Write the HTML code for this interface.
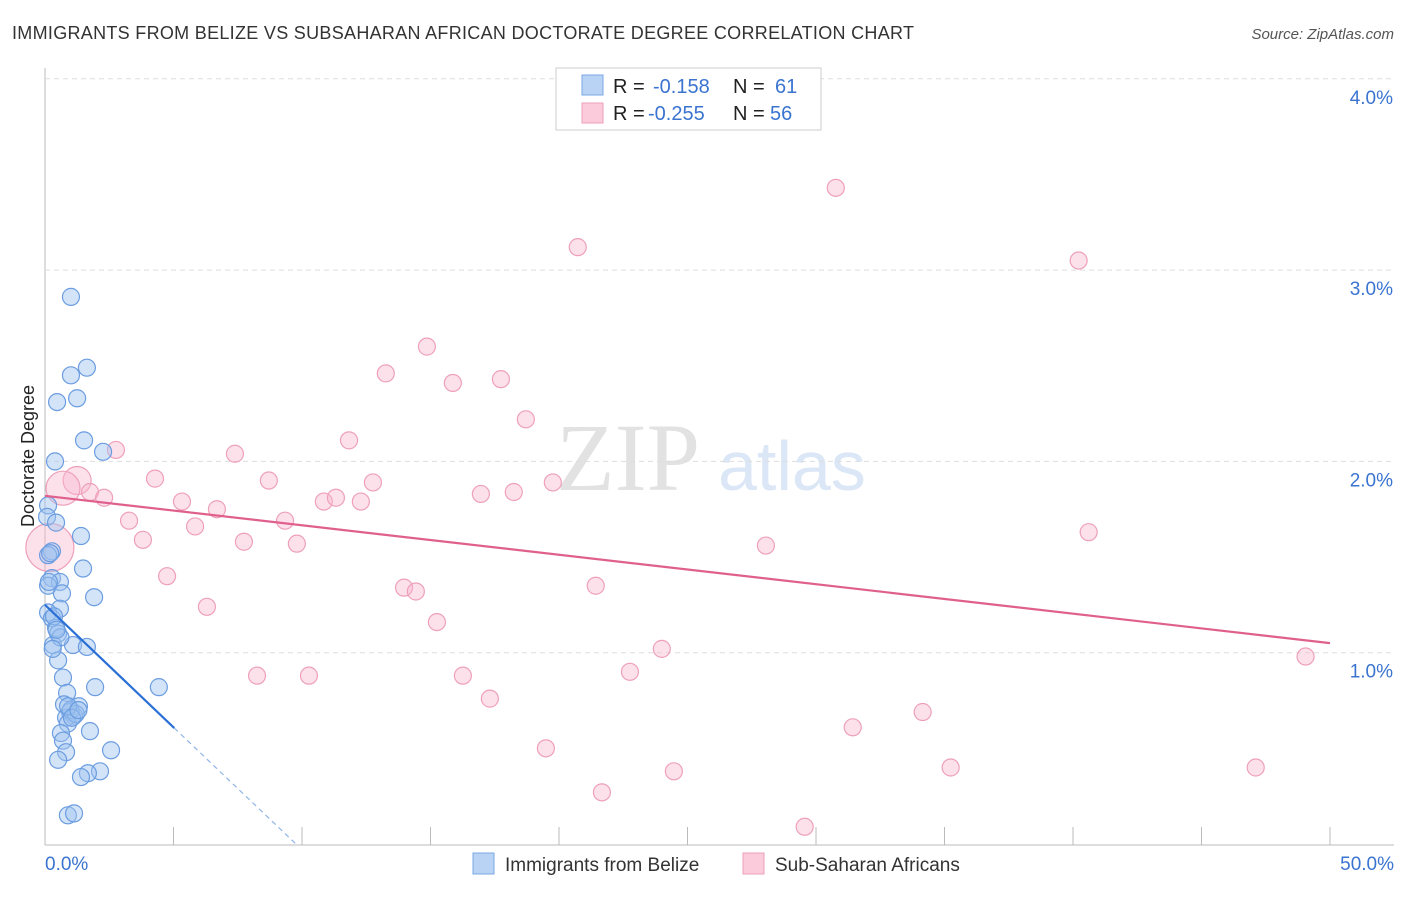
<!DOCTYPE html>
<html><head><meta charset="utf-8"><style>
body{margin:0;background:#fff;font-family:"Liberation Sans",sans-serif;}
svg text{font-family:"Liberation Sans",sans-serif;}
</style></head><body>
<svg id="chart" width="1406" height="892" xmlns="http://www.w3.org/2000/svg">
<text x="12" y="39" font-size="18" fill="#333" textLength="902" lengthAdjust="spacing">IMMIGRANTS FROM BELIZE VS SUBSAHARAN AFRICAN DOCTORATE DEGREE CORRELATION CHART</text>
<text x="1394" y="39" font-size="15" fill="#555" font-style="italic" text-anchor="end">Source: ZipAtlas.com</text>
<text x="34" y="456" font-size="18" fill="#222" text-anchor="middle" transform="rotate(-90 34 456)">Doctorate Degree</text>
<text x="556" y="490" font-size="96" fill="#e2e2e2" style="font-family:'Liberation Serif',serif">ZIP</text>
<text x="718" y="490" font-size="70" fill="#dbe7f6">atlas</text>
<g id="grid"></g><g id="pts"></g><g id="lines"></g>
<g>
<rect x="556" y="68" width="265" height="62" fill="#fff" stroke="#ccc"/>
<rect x="582" y="75" width="21" height="20" fill="#b9d3f5" stroke="#7ba7e6"/>
<rect x="582" y="103" width="21" height="20" fill="#fbcadb" stroke="#eea0ba"/>
<text x="613" y="93" font-size="20" fill="#222">R = <tspan x="653" fill="#3a74d0">-0.158</tspan><tspan x="733">N = </tspan><tspan x="775" fill="#3a74d0">61</tspan></text>
<text x="613" y="120" font-size="20" fill="#222">R = <tspan x="648" fill="#3a74d0">-0.255</tspan><tspan x="733">N = </tspan><tspan x="770" fill="#3a74d0">56</tspan></text>
</g>
<g>
<rect x="473" y="853" width="21" height="21" fill="#b9d3f5" stroke="#7ba7e6"/>
<text x="505" y="871" font-size="19" fill="#333">Immigrants from Belize</text>
<rect x="743" y="853" width="21" height="21" fill="#fbcadb" stroke="#eea0ba"/>
<text x="775" y="871" font-size="19" fill="#333">Sub-Saharan Africans</text>
</g>
</svg>
<script>
const blueX=[1.01,1.63,1.01,1.25,0.47,1.52,2.26,0.39,0.12,0.08,0.43,1.40,0.27,0.12,1.48,0.27,0.58,0.12,0.66,1.91,0.58,0.12,0.27,0.43,0.51,0.31,1.09,1.63,0.51,0.70,4.43,1.95,0.86,0.74,1.32,0.97,1.13,0.82,0.89,1.75,0.62,0.70,2.57,0.82,0.51,2.14,1.67,1.40,0.89,1.13,0.2,0.35,1.0,1.2,0.6,0.3,0.9,1.05,0.15,0.45,1.3];
const blueY=[2.86,2.49,2.45,2.33,2.31,2.11,2.05,2.00,1.77,1.71,1.68,1.61,1.53,1.51,1.44,1.39,1.37,1.35,1.31,1.29,1.23,1.21,1.18,1.13,1.10,1.04,1.04,1.03,0.96,0.87,0.82,0.82,0.79,0.73,0.72,0.69,0.67,0.66,0.63,0.59,0.58,0.54,0.49,0.48,0.44,0.38,0.37,0.35,0.15,0.16,1.52,1.19,0.70,0.68,1.08,1.02,0.72,0.66,1.37,1.12,0.70];
const pinkX=[30.77,20.73,40.22,14.86,13.26,17.74,15.87,18.71,11.83,2.76,7.39,1.25,4.28,0.70,8.71,12.76,19.76,1.75,2.30,16.96,18.24,5.33,10.85,11.32,12.29,6.69,3.27,9.34,5.84,40.61,3.81,7.74,9.80,28.05,0.19,4.75,13.97,14.43,21.43,6.30,15.25,24.00,49.05,8.25,10.27,16.26,22.76,17.31,34.15,31.43,19.49,35.24,47.11,24.47,21.67,29.56];
const pinkY=[3.43,3.12,3.05,2.60,2.46,2.43,2.41,2.22,2.11,2.06,2.04,1.90,1.91,1.86,1.90,1.89,1.89,1.84,1.81,1.83,1.84,1.79,1.79,1.81,1.79,1.75,1.69,1.69,1.66,1.63,1.59,1.58,1.57,1.56,1.55,1.40,1.34,1.32,1.35,1.24,1.16,1.02,0.98,0.88,0.88,0.88,0.90,0.76,0.69,0.61,0.50,0.40,0.40,0.38,0.27,0.09];
const pinkBig={11:14,13:17,34:24};
const yTicks=[1,2,3,4];
const yTickLabels=["1.0%","2.0%","3.0%","4.0%"];
const blueTrend=[1.25,-0.128];
const pinkTrend=[1.82,-0.0154];
const NS="http://www.w3.org/2000/svg";
const sx=v=>45+v*(1285/50), sy=v=>844-v*191.3;
function mk(t,a,p){const e=document.createElementNS(NS,t);for(const k in a)e.setAttribute(k,a[k]);p.appendChild(e);return e;}
const grid=document.getElementById('grid');
let ax=mk('line',{x1:45,y1:68,x2:45,y2:845,stroke:'#bbb'},grid);


let xl=mk('line',{x1:45,y1:845,x2:1394,y2:845,stroke:'#bbb'},grid);


yTicks.forEach((t,i)=>{
 let g=mk('line',{x1:45,y1:sy(t),x2:1394,y2:sy(t),stroke:'#ddd','stroke-dasharray':'5,4'},grid);
 
 
 let tx=mk('text',{x:1393,y:sy(t)+25,'font-size':19,fill:'#3a74d0','text-anchor':'end'},grid);
 tx.textContent=yTickLabels[i];
 
 
});
for(let i=1;i<=10;i++){let tk=mk('line',{x1:sx(i*5),y1:827,x2:sx(i*5),y2:845,stroke:'#bbb'},grid);
 
 }
let x0=mk('text',{x:45,y:870,'font-size':19,fill:'#3a74d0'},grid);x0.textContent='0.0%';


let x1=mk('text',{x:1394,y:870,'font-size':19,fill:'#3a74d0','text-anchor':'end'},grid);x1.textContent='50.0%';


const pts=document.getElementById('pts');
pinkX.forEach((x,i)=>{let c=mk('circle',{cx:sx(x),cy:sy(pinkY[i]),r:pinkBig[i]||8.5,fill:'rgba(248,180,204,0.4)',stroke:'#eea0ba','stroke-width':1.2},pts);
 
 });
blueX.forEach((x,i)=>{let c=mk('circle',{cx:sx(x),cy:sy(blueY[i]),r:8.5,fill:'rgba(160,195,240,0.45)',stroke:'#6b9de0','stroke-width':1.2},pts);
 
 });
const L=document.getElementById('lines');
let pl=mk('line',{x1:sx(0),y1:sy(pinkTrend[0]),x2:sx(50),y2:sy(pinkTrend[0]+pinkTrend[1]*50),stroke:'#e0608d','stroke-width':2.2},L);


const bEnd=4.43, bZero=-blueTrend[0]/blueTrend[1];
let bl=mk('line',{x1:sx(0),y1:sy(blueTrend[0]),x2:sx(bEnd+0.6),y2:sy(blueTrend[0]+blueTrend[1]*(bEnd+0.6)),stroke:'#2a6fd6','stroke-width':2.2},L);


let bd=mk('line',{x1:sx(bEnd+0.6),y1:sy(blueTrend[0]+blueTrend[1]*(bEnd+0.6)),x2:sx(bZero),y2:sy(0),stroke:'#8fb4e8','stroke-width':1.2,'stroke-dasharray':'5,4'},L);


</script>
</body></html>
